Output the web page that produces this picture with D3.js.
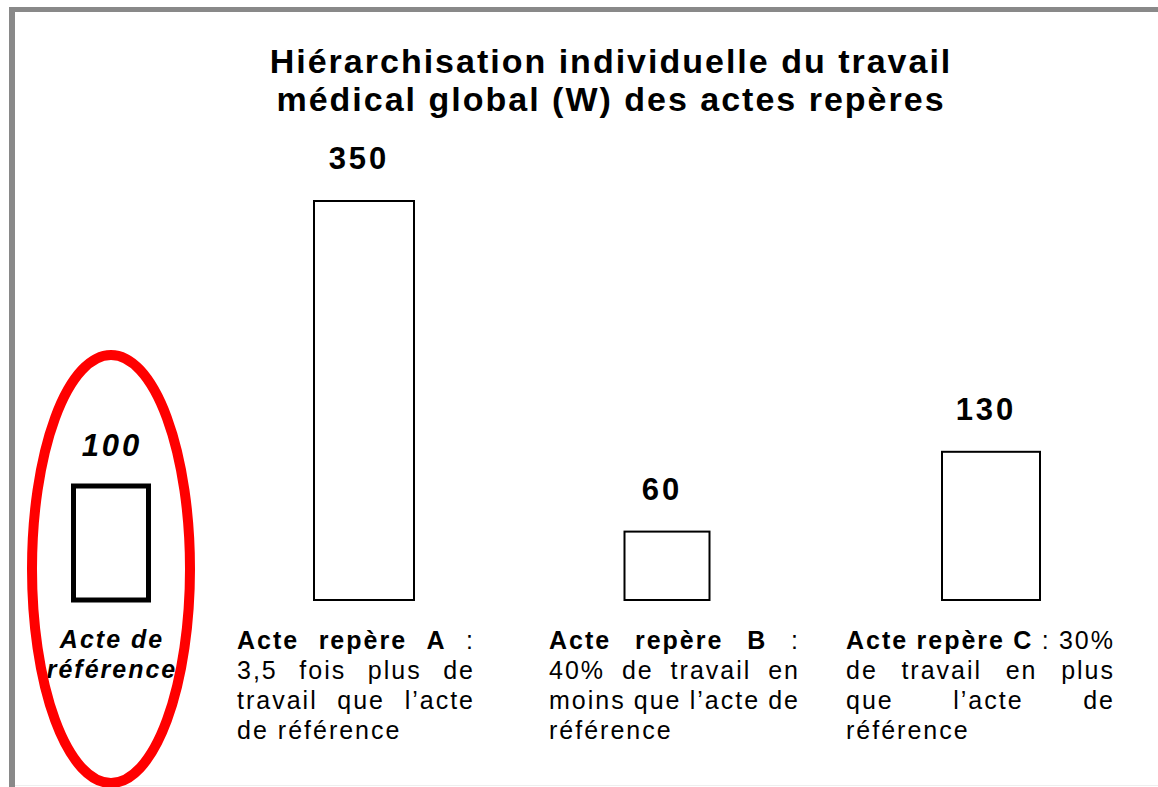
<!DOCTYPE html>
<html lang="fr">
<head>
<meta charset="utf-8">
<title>Hiérarchisation individuelle du travail médical global</title>
<script src="https://d3js.org/d3.v7.min.js"></script>
<style>
  body { margin: 0; background: #fff; }
  svg { display: block; font-family: "Liberation Sans", Arial, sans-serif; }
</style>
</head>
<body>
<svg width="1158" height="787"></svg>
<script>
  const actes = ["Acte de référence", "Acte repère A", "Acte repère B", "Acte repère C"];
  const valeurs = [100, 350, 60, 130];
  const titre = ["Hiérarchisation individuelle du travail", "médical global (W) des actes repères"];
  // one entry per line, a leading * marks a bold word
  const descriptions = [
    ["Acte de", "référence"],
    ["*Acte *repère *A :", "3,5 fois plus de", "travail que l’acte", "de référence"],
    ["*Acte *repère *B :", "40% de travail en", "moins que l’acte de", "référence"],
    ["*Acte *repère *C : 30%", "de travail en plus", "que l’acte de", "référence"]
  ];

  const svg = d3.select("svg");
  const data = actes.map((a, i) => ({ acte: a, valeur: valeurs[i], lignes: descriptions[i], ref: i === 0 }));

  const x = d3.scaleOrdinal().domain(actes).range([111, 364, 667, 991]);
  const w = d3.scaleOrdinal().domain(actes).range([75, 100, 85, 98]);
  const y = d3.scaleLinear().domain([0, 350]).range([600, 201]);

  // frame
  svg.append("rect").attr("x", 9).attr("y", 7).attr("width", 6).attr("height", 780).attr("fill", "#898989");
  svg.append("rect").attr("x", 9).attr("y", 7).attr("width", 1149).attr("height", 5).attr("fill", "#898989");
  svg.append("line").attr("x1", 15).attr("x2", 1158).attr("y1", 785.5).attr("y2", 785.5)
    .attr("stroke", "#eeeeee").attr("stroke-width", 1);

  // title
  svg.append("text")
    .attr("text-anchor", "middle")
    .attr("font-size", 34)
    .attr("font-weight", "bold")
    .attr("letter-spacing", 2)
    .selectAll("tspan")
    .data(titre)
    .enter()
    .append("tspan")
    .attr("x", 611)
    .attr("y", (d, i) => 73 + i * 38)
    .text(d => d);

  // bars
  svg.selectAll("rect.bar")
    .data(data)
    .enter()
    .append("rect")
    .attr("class", "bar")
    .attr("x", d => x(d.acte) - w(d.acte) / 2)
    .attr("y", d => y(d.valeur))
    .attr("width", d => w(d.acte))
    .attr("height", d => y(0) - y(d.valeur))
    .attr("fill", "white")
    .attr("stroke", "black")
    .attr("stroke-width", d => d.ref ? 5 : 2);

  // value labels
  svg.selectAll("text.valeur")
    .data(data)
    .enter()
    .append("text")
    .attr("class", "valeur")
    .attr("x", d => x(d.acte) - (d.ref ? -1 : 5))
    .attr("y", d => y(d.valeur) - (d.ref ? 30 : 32))
    .attr("text-anchor", "middle")
    .attr("font-size", 31)
    .attr("font-weight", "bold")
    .attr("font-style", d => d.ref ? "italic" : "normal")
    .attr("letter-spacing", 3)
    .text(d => d.valeur);

  // reference label and circle
  const ref = data[0];
  svg.append("text")
    .attr("text-anchor", "middle")
    .attr("font-size", 25)
    .attr("font-weight", "bold")
    .attr("font-style", "italic")
    .attr("letter-spacing", 2)
    .selectAll("tspan")
    .data(ref.lignes)
    .enter()
    .append("tspan")
    .attr("x", x(ref.acte) + 1)
    .attr("y", (d, i) => 648 + i * 30)
    .text(d => d);

  svg.append("ellipse")
    .attr("cx", x(ref.acte))
    .attr("cy", 569)
    .attr("rx", 79)
    .attr("ry", 214)
    .attr("fill", "none")
    .attr("stroke", "#ff0000")
    .attr("stroke-width", 10);

  // justified descriptions
  const colonnes = [null, { x0: 237, largeur: 236 }, { x0: 549, largeur: 249 }, { x0: 846, largeur: 267 }];
  const ls = 2;

  data.forEach((d, i) => {
    if (d.ref) return;
    const col = colonnes[i];
    const g = svg.append("g")
      .attr("font-size", 25)
      .attr("letter-spacing", ls);
    d.lignes.forEach((ligne, j) => {
      const mots = ligne.split(" ").map(m => ({ t: m.replace("*", ""), bold: m[0] === "*" }));
      const yy = 649 + j * 30;
      const nodes = mots.map(m => g.append("text")
        .attr("y", yy)
        .attr("font-weight", m.bold ? "bold" : "normal")
        .text(m.t));
      const larg = nodes.map(n => n.node().getComputedTextLength());
      const total = d3.sum(larg);
      const derniere = j === d.lignes.length - 1;
      const gap = derniere || mots.length < 2 ? 9 : (col.largeur + ls - total) / (mots.length - 1);
      let cx = col.x0;
      nodes.forEach((n, k) => {
        n.attr("x", cx);
        cx += larg[k] + gap;
      });
    });
  });
</script>
</body>
</html>
